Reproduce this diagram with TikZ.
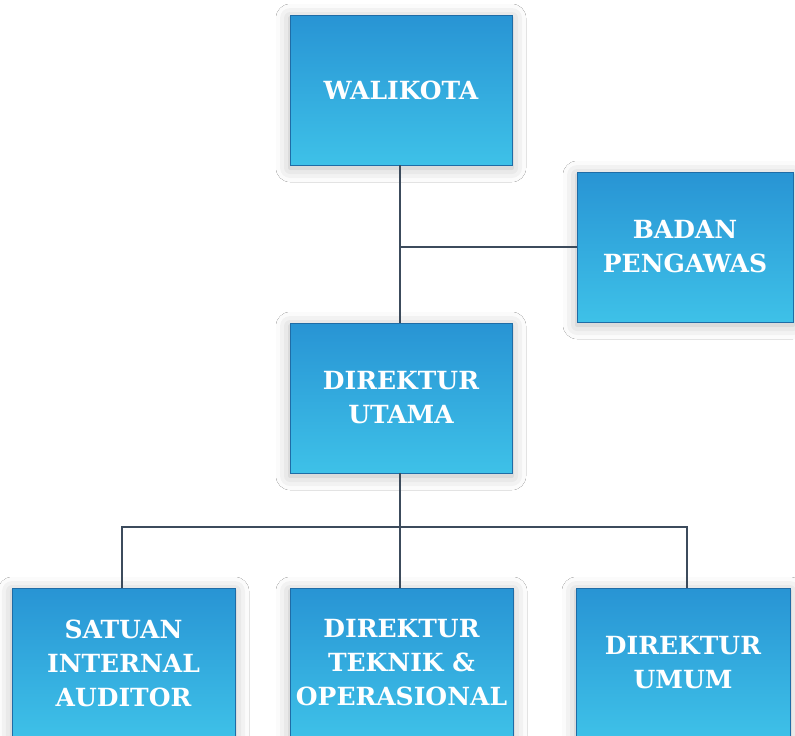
\documentclass[tikz,border=0pt]{standalone}
\usepackage{fontspec}
\setmainfont{DejaVu Serif}
\usetikzlibrary{shadows.blur}
\definecolor{boxtop}{HTML}{2894D4}
\definecolor{boxbot}{HTML}{3EC1E8}
\definecolor{boxedge}{HTML}{1F6CA6}
\definecolor{linkcol}{HTML}{3C4B5C}
\tikzset{
  unit/.style={rectangle, top color=boxtop, bottom color=boxbot, draw=boxedge, line width=.8pt,
    text=white, align=center, inner sep=0pt, minimum height=150pt,
    font=\fontsize{25}{34}\selectfont\bfseries,
    blur shadow={shadow xshift=0pt, shadow yshift=-3pt, shadow blur radius=14pt, shadow opacity=28}},
  link/.style={draw=linkcol, line width=1.4pt}
}
\begin{document}
\begin{tikzpicture}[x=1pt,y=-1pt]
        \useasboundingbox [fill=white] (0,0) rectangle (795,736);
        \node [unit, minimum width=222pt] (wali) at (401,90) {WALIKOTA};
        \node [unit, minimum width=216pt] (badan) at (685,247) {BADAN\\PENGAWAS};
        \node [unit, minimum width=222pt] (dirut) at (401,398) {DIREKTUR\\UTAMA};
        \node [unit, minimum width=223pt] (spi) at (123.5,663) {SATUAN\\INTERNAL\\AUDITOR};
        \node [unit, minimum width=223pt] (dirtek) at (401.5,663) {DIREKTUR\\TEKNIK \&\\OPERASIONAL};
        \node [unit, minimum width=214pt] (dirum) at (683,663) {DIREKTUR\\UMUM};
        \coordinate (jb) at (400,247);
        \coordinate (bus) at (400,527);
        \draw [link] (wali.south -| jb) -- (dirut.north -| jb);
        \draw [link] (jb) -- (badan.west);
        \draw [link] (dirut.south -| bus) -- (bus);
        \draw [link] (spi.north -| 122,0) |- (bus) -| (dirum.north -| 687,0);
        \draw [link] (bus) -- (dirtek.north -| bus);
\end{tikzpicture}
\end{document}
